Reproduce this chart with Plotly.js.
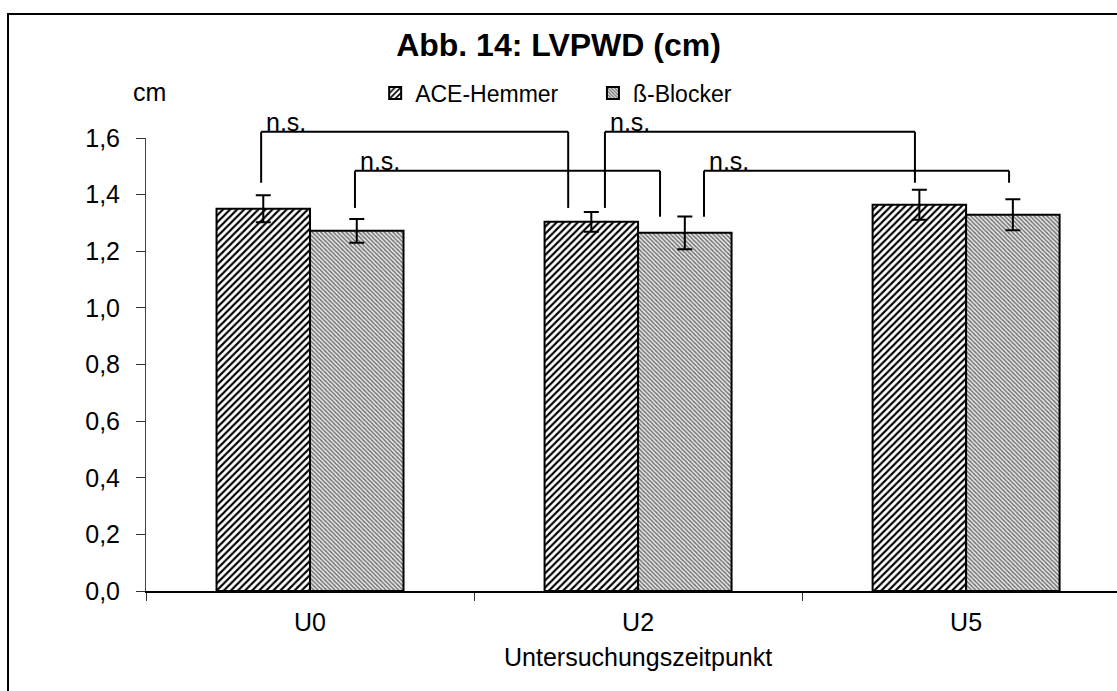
<!DOCTYPE html>
<html>
<head>
<meta charset="utf-8">
<script src="https://cdn.plot.ly/plotly-3.0.1.min.js"></script>
<style>html,body{margin:0;padding:0;background:#fff;overflow:hidden}</style>
</head>
<body>
<div id="chart" style="width:1117px;height:691px"></div>
<script>
// ---- data ----
const categories = ["U0", "U2", "U5"];
const seriesNames = ["ACE-Hemmer", "ß-Blocker"];
const aceValues = [1.35, 1.304, 1.364];
const aceErrors = [0.048, 0.035, 0.053];
const betaValues = [1.272, 1.265, 1.329];
const betaErrors = [0.042, 0.058, 0.055];
const yTickValues = [0, 0.2, 0.4, 0.6, 0.8, 1.0, 1.2, 1.4, 1.6];
// significance brackets: [x start, x end, y left foot, y top, y right foot, label]
const bracketLabels = ["n.s.", "n.s.", "n.s.", "n.s."];
const bracketX0 = [-0.149, 0.137, 0.899, 1.201];
const bracketX1 = [0.787, 1.067, 1.844, 2.131];
const bracketYLeft = [1.442, 1.353, 1.353, 1.322];
const bracketYTop = [1.622, 1.484, 1.622, 1.484];
const bracketYRight = [1.353, 1.322, 1.442, 1.442];

const YMAX = 1.6;
const FONT = "Arial, 'Liberation Sans', sans-serif";

const traces = [
  {
    type: "bar", name: seriesNames[0], x: categories, y: aceValues, legend: "legend",
    marker: {
      color: "#ffffff",
      line: {color: "#000", width: 2},
      pattern: {shape: "/", size: 5, solidity: 0.42, fgcolor: "#000", bgcolor: "#fff", fillmode: "replace"}
    },
    error_y: {type: "data", array: aceErrors, visible: true, color: "#000", thickness: 2, width: 7.5}
  },
  {
    type: "bar", name: seriesNames[1], x: categories, y: betaValues, legend: "legend2",
    marker: {
      color: "#ffffff",
      line: {color: "#000", width: 2},
      pattern: {shape: "\\", size: 3, solidity: 0.45, fgcolor: "#6a6a6a", bgcolor: "#e8e8e8", fillmode: "replace"}
    },
    error_y: {type: "data", array: betaErrors, visible: true, color: "#000", thickness: 2, width: 7.5}
  }
];

const shapes = [];
const annotations = [];
for (let i = 0; i < bracketLabels.length; i++) {
  const ln = {color: "#000", width: 2};
  shapes.push({type: "line", xref: "x", yref: "paper", x0: bracketX0[i], x1: bracketX0[i], y0: bracketYLeft[i] / YMAX, y1: bracketYTop[i] / YMAX, line: ln});
  shapes.push({type: "line", xref: "x", yref: "paper", x0: bracketX0[i], x1: bracketX1[i], y0: bracketYTop[i] / YMAX, y1: bracketYTop[i] / YMAX, line: ln});
  shapes.push({type: "line", xref: "x", yref: "paper", x0: bracketX1[i], x1: bracketX1[i], y0: bracketYTop[i] / YMAX, y1: bracketYRight[i] / YMAX, line: ln});
  annotations.push({
    text: bracketLabels[i], xref: "x", yref: "paper", x: bracketX0[i] + 0.01, y: (bracketYTop[i] + 0.034) / YMAX,
    xanchor: "left", yanchor: "middle", showarrow: false, font: {family: FONT, size: 25, color: "#000"}
  });
}
// outer frame
shapes.push({type: "rect", xref: "paper", yref: "paper", x0: -0.1421, x1: 1.05, y0: -0.3, y1: 1.2737, line: {color: "#000", width: 2}, fillcolor: "rgba(0,0,0,0)"});

annotations.push({text: "cm", xref: "paper", yref: "paper", x: 0.004, y: 1.1015, xanchor: "center", yanchor: "middle", showarrow: false, font: {family: FONT, size: 25, color: "#000"}});
annotations.push({text: "Untersuchungszeitpunkt", xref: "x", yref: "paper", x: 1, y: -0.1457, xanchor: "center", yanchor: "middle", showarrow: false, font: {family: FONT, size: 25, color: "#000"}});

const legendCommon = {orientation: "h", xanchor: "left", y: 1.099, yanchor: "middle", font: {family: FONT, size: 23, color: "#000"}, itemwidth: 30, bgcolor: "rgba(0,0,0,0)"};

const layout = {
  width: 1117, height: 691,
  margin: {l: 146, r: 0, t: 138, b: 100, pad: 0},
  paper_bgcolor: "#fff", plot_bgcolor: "#fff",
  separators: ", ",
  font: {family: FONT, size: 25, color: "#000"},
  title: {text: "<b>Abb. 14: LVPWD (cm)</b>", x: 0.5, xref: "container", y: 0.935, yref: "container", yanchor: "middle", font: {family: FONT, size: 32, color: "#000"}},
  barmode: "group", bargap: 0.43, bargroupgap: 0,
  showlegend: true,
  legend: Object.assign({}, legendCommon, {x: 0.236}),
  legend2: Object.assign({}, legendCommon, {x: 0.4603}),
  xaxis: {
    type: "category", range: [-0.5, 2.46], tickson: "boundaries", ticks: "outside", ticklen: 8, tickcolor: "#333", tickwidth: 1,
    showline: true, linecolor: "#000", linewidth: 1.5, showgrid: false, zeroline: false,
    tickfont: {family: FONT, size: 25, color: "#000"}, ticklabelstandoff: 8, fixedrange: true
  },
  yaxis: {
    range: [0, YMAX], tickvals: yTickValues, tickformat: ".1f", ticks: "outside", ticklen: 9, tickcolor: "#333", tickwidth: 1,
    showline: true, linecolor: "#444", linewidth: 1, showgrid: false, zeroline: false,
    tickfont: {family: FONT, size: 25, color: "#000"}, ticklabelstandoff: 11, fixedrange: true
  },
  shapes: shapes,
  annotations: annotations
};

Plotly.newPlot("chart", traces, layout, {displayModeBar: false, staticPlot: true});
</script>
</body>
</html>
